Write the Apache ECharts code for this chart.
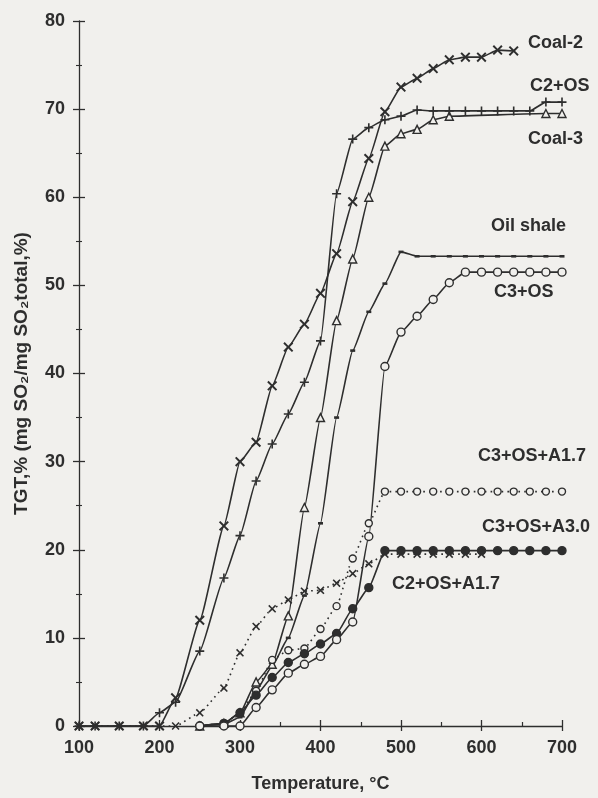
<!DOCTYPE html>
<html>
<head>
<meta charset="utf-8">
<script src="https://cdn.jsdelivr.net/npm/echarts@6/dist/echarts.min.js"></script>
<style>
html,body{margin:0;padding:0;background:#f1f0ed;}
#chart{width:598px;height:798px;}
</style>
</head>
<body>
<div id="chart"></div>
<script>
// ---- data (temperature °C, TGT %) ----
const tCoal2 = [100,120,150,180,200,220,250,280,300,320,340,360,380,400,420,440,460,480,500,520,540,560,580,600,620,640];
const vCoal2 = [0,0,0,0,0,3.2,12,22.7,30,32.2,38.6,43,45.6,49.1,53.6,59.5,64.4,69.7,72.5,73.5,74.6,75.6,75.9,75.9,76.7,76.6];

const tC2OS = [100,120,150,180,200,220,250,280,300,320,340,360,380,400,420,440,460,480,500,520,540,560,580,600,620,640,660,680,700];
const vC2OS = [0,0,0,0,1.5,2.7,8.5,16.8,21.6,27.8,32,35.4,39,43.7,60.4,66.6,67.9,68.8,69.2,69.9,69.8,69.8,69.8,69.8,69.8,69.8,69.8,70.8,70.8];

const tCoal3 = [250,280,300,320,340,360,380,400,420,440,460,480,500,520,540,560,680,700];
const vCoal3 = [0,0.3,1.5,5,7,12.5,24.8,35,46,53,60,65.8,67.2,67.7,68.8,69.2,69.5,69.5];

const tOil = [250,280,300,320,340,360,380,400,420,440,460,480,500,520,540,560,580,600,620,640,660,680,700];
const vOil = [0,0.2,1,4,6.8,10,14.8,23,35,42.6,47,50.2,53.8,53.3,53.3,53.3,53.3,53.3,53.3,53.3,53.3,53.3,53.3];

const tC3OS = [250,280,300,320,340,360,380,400,420,440,460,480,500,520,540,560,580,600,620,640,660,680,700];
const vC3OS = [0,0,0,2.1,4.1,6,7,7.9,9.8,11.8,21.5,40.8,44.7,46.5,48.4,50.3,51.5,51.5,51.5,51.5,51.5,51.5,51.5];

const tC3A17 = [250,280,300,320,340,360,380,400,420,440,460,480,500,520,540,560,580,600,620,640,660,680,700];
const vC3A17 = [0,0.3,1.5,4,7.5,8.6,8.8,11,13.6,19,23,26.6,26.6,26.6,26.6,26.6,26.6,26.6,26.6,26.6,26.6,26.6,26.6];

const tC3A30 = [250,280,300,320,340,360,380,400,420,440,460,480,500,520,540,560,580,600,620,640,660,680,700];
const vC3A30 = [0,0.3,1.5,3.5,5.5,7.2,8.2,9.3,10.5,13.3,15.7,19.9,19.9,19.9,19.9,19.9,19.9,19.9,19.9,19.9,19.9,19.9,19.9];

const tC2A17 = [100,120,150,180,200,220,250,280,300,320,340,360,380,400,420,440,460,480,500,520,540,560,580,600];
const vC2A17 = [0,0,0,0,0,0,1.5,4.3,8.3,11.3,13.3,14.3,15.3,15.4,16.2,17.3,18.4,19.5,19.5,19.5,19.5,19.5,19.5,19.5];

const seriesNames = ['Coal-2','C2+OS','Coal-3','Oil shale','C3+OS','C3+OS+A1.7','C3+OS+A3.0','C2+OS+A1.7'];
const xTicks = [100,200,300,400,500,600,700];
const yTicks = [0,10,20,30,40,50,60,70,80];

// ---- styling ----
const INK = '#2e2e2e';
const PAPER = '#f1f0ed';
const FONT = '"Liberation Sans", Arial, "DejaVu Sans", sans-serif';
const X_PATH = 'path://M1.4,0 L5,3.6 L8.6,0 L10,1.4 L6.4,5 L10,8.6 L8.6,10 L5,6.4 L1.4,10 L0,8.6 L3.6,5 L0,1.4 Z';
const PLUS_PATH = 'path://M4.1,0 H5.9 V4.1 H10 V5.9 H5.9 V10 H4.1 V5.9 H0 V4.1 H4.1 Z';

function pairs(t, v){ return t.map((x,i)=>[x, v[i]]); }

function mk(name, t, v, symbol, size, fill, dashed){
  return {
    name: name, type: 'line', data: pairs(t, v),
    xAxisIndex: 0, yAxisIndex: 0,
    smooth: 0.15, smoothMonotone: 'x', clip: false,
    symbol: symbol, symbolSize: size, showSymbol: true,
    lineStyle: { color: INK, width: 1.6, type: dashed ? [1.6,4] : 'solid' },
    itemStyle: { color: fill, borderColor: INK, borderWidth: (symbol==='circle'||symbol==='triangle') ? 1.4 : 0 },
    emphasis: { disabled: true },
    animation: false, z: 3
  };
}

const chart = echarts.init(document.getElementById('chart'), null, {renderer:'canvas'});

const axisCommon = { type:'value', min:100, max:700, interval:100 };
const yCommon = { type:'value', min:0, max:80, interval:10 };

const option = {
  backgroundColor: PAPER,
  animation: false,
  grid: { left: 79, right: 36, top: 21, bottom: 70, containLabel: false },
  xAxis: [
    Object.assign({}, axisCommon, {
      position: 'bottom',
      name: 'Temperature, °C', nameLocation: 'middle', nameGap: 49,
      nameTextStyle: { color: INK, fontFamily: FONT, fontWeight: 'bold', fontSize: 18 },
      axisLine: { show: true, lineStyle: { color: INK, width: 1.3 } },
      axisTick: { show: true, inside: false, length: 5, lineStyle: { color: INK, width: 1.3 } },
      minorTick: { show: false },
      splitLine: { show: false },
      axisLabel: { color: INK, fontFamily: FONT, fontWeight: 'bold', fontSize: 18, margin: 13,
                   formatter: v => xTicks.indexOf(v) >= 0 ? String(v) : '' }
    }),
    Object.assign({}, axisCommon, {
      position: 'bottom',
      axisLine: { show: false },
      axisTick: { show: true, inside: true, length: 6, lineStyle: { color: INK, width: 1.3 } },
      minorTick: { show: true, splitNumber: 2, length: 4, lineStyle: { color: INK, width: 1.2 } },
      splitLine: { show: false }, axisLabel: { show: false }
    })
  ],
  yAxis: [
    Object.assign({}, yCommon, {
      position: 'left',
      name: 'TGT,% (mg SO₂/mg SO₂total,%)', nameLocation: 'middle', nameGap: 48, nameRotate: 90,
      nameTextStyle: { color: INK, fontFamily: FONT, fontWeight: 'bold', fontSize: 19 },
      axisLine: { show: true, lineStyle: { color: INK, width: 1.3 } },
      axisTick: { show: true, inside: false, length: 6, lineStyle: { color: INK, width: 1.3 } },
      minorTick: { show: true, splitNumber: 2, length: 3, lineStyle: { color: INK, width: 1.1 } },
      splitLine: { show: false },
      axisLabel: { color: INK, fontFamily: FONT, fontWeight: 'bold', fontSize: 18, margin: 14,
                   formatter: v => yTicks.indexOf(v) >= 0 ? String(v) : '' }
    }),
    Object.assign({}, yCommon, {
      position: 'left',
      axisLine: { show: false },
      axisTick: { show: true, inside: true, length: 6, lineStyle: { color: INK, width: 1.3 } },
      minorTick: { show: true, splitNumber: 2, length: 3, lineStyle: { color: INK, width: 1.1 } },
      splitLine: { show: false }, axisLabel: { show: false }
    })
  ],
  series: [
    mk(seriesNames[3], tOil, vOil, 'rect', [5,2.6], INK, false),
    mk(seriesNames[2], tCoal3, vCoal3, 'triangle', 8, PAPER, false),
    mk(seriesNames[1], tC2OS, vC2OS, PLUS_PATH, 9, INK, false),
    mk(seriesNames[0], tCoal2, vCoal2, X_PATH, 10, INK, false),
    mk(seriesNames[5], tC3A17, vC3A17, 'circle', 7, PAPER, true),
    mk(seriesNames[7], tC2A17, vC2A17, X_PATH, 8, INK, true),
    mk(seriesNames[6], tC3A30, vC3A30, 'circle', 8, INK, false),
    mk(seriesNames[4], tC3OS, vC3OS, 'circle', 8, PAPER, false)
  ],
  graphic: [
    { type:'text', left:528, top:34, style:{ text:'Coal-2', fill:INK, font:'bold 18px '+FONT } },
    { type:'text', left:530, top:77, style:{ text:'C2+OS', fill:INK, font:'bold 18px '+FONT } },
    { type:'text', left:528, top:130, style:{ text:'Coal-3', fill:INK, font:'bold 18px '+FONT } },
    { type:'text', left:491, top:217, style:{ text:'Oil shale', fill:INK, font:'bold 18px '+FONT } },
    { type:'text', left:494, top:283, style:{ text:'C3+OS', fill:INK, font:'bold 18px '+FONT } },
    { type:'text', left:478, top:447, style:{ text:'C3+OS+A1.7', fill:INK, font:'bold 18px '+FONT } },
    { type:'text', left:482, top:518, style:{ text:'C3+OS+A3.0', fill:INK, font:'bold 18px '+FONT } },
    { type:'text', left:392, top:575, style:{ text:'C2+OS+A1.7', fill:INK, font:'bold 18px '+FONT } }
  ]
};
chart.setOption(option);
</script>
</body>
</html>
